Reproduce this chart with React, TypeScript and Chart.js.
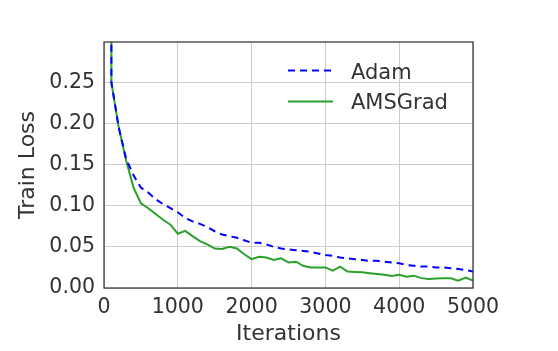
import React, { useEffect, useRef } from "react";
import { Chart, registerables } from "chart.js";

Chart.register(...registerables);

const iterations = [100, 100, 200, 300, 400, 500, 600, 700, 800, 900, 1000, 1100, 1200, 1300, 1400, 1500, 1600, 1700, 1800, 1900, 2000, 2100, 2200, 2300, 2400, 2500, 2600, 2700, 2800, 2900, 3000, 3100, 3200, 3300, 3400, 3500, 3600, 3700, 3800, 3900, 4000, 4100, 4200, 4300, 4400, 4500, 4600, 4700, 4800, 4900, 5000];

const adamLoss = [1.2, 0.25, 0.195, 0.157, 0.137, 0.122, 0.116, 0.108, 0.102, 0.097, 0.092, 0.085, 0.081, 0.078, 0.074, 0.069, 0.065, 0.063, 0.061, 0.058, 0.055, 0.055, 0.053, 0.05, 0.048, 0.047, 0.046, 0.045, 0.044, 0.042, 0.04, 0.039, 0.037, 0.036, 0.035, 0.034, 0.033, 0.033, 0.032, 0.031, 0.03, 0.028, 0.027, 0.026, 0.026, 0.025, 0.025, 0.024, 0.023, 0.022, 0.02];

const amsgradLoss = [1.2, 0.25, 0.195, 0.155, 0.122, 0.103, 0.097, 0.09, 0.083, 0.077, 0.066, 0.0695, 0.063, 0.057, 0.053, 0.048, 0.0475, 0.05, 0.048, 0.041, 0.035, 0.038, 0.037, 0.034, 0.036, 0.031, 0.032, 0.027, 0.025, 0.025, 0.025, 0.021, 0.026, 0.02, 0.0195, 0.019, 0.018, 0.017, 0.016, 0.0146, 0.016, 0.0138, 0.015, 0.012, 0.011, 0.0115, 0.0118, 0.0118, 0.009, 0.0126, 0.009];

const seriesNames = ["Adam", "AMSGrad"];
const xTitle = "Iterations";
const yTitle = "Train Loss";

const FONT = "'DejaVu Sans', sans-serif";
const TEXT = "#333333";
const BLUE = "#0000ff";
const GREEN = "#2ca02c";

export default function App() {
  const ref = useRef<HTMLCanvasElement>(null);
  useEffect(() => {
    document.body.style.margin = "0";
    const ctx = ref.current!.getContext("2d")!;
    const overlay = {
      id: "overlay",
      afterDraw(chart: any) {
        const c = chart.ctx;
        const a = chart.chartArea;
        c.save();
        c.strokeStyle = "#333333";
        c.lineWidth = 1.25;
        c.strokeRect(a.left, a.top, a.right - a.left, a.bottom - a.top);
        c.fillStyle = TEXT;
        c.font = `22px ${FONT}`;
        c.textAlign = "center";
        c.textBaseline = "alphabetic";
        c.fillText(xTitle, (a.left + a.right) / 2, 339.5);
        c.save();
        c.translate(34, (a.top + a.bottom) / 2);
        c.rotate(-Math.PI / 2);
        c.fillText(yTitle, 0, 0);
        c.restore();
        c.font = `21px ${FONT}`;
        c.textAlign = "left";
        c.lineWidth = 2;
        c.strokeStyle = BLUE;
        c.setLineDash([7, 5]);
        c.beginPath();
        c.moveTo(288, 70.5);
        c.lineTo(333, 70.5);
        c.stroke();
        c.setLineDash([]);
        c.strokeStyle = GREEN;
        c.beginPath();
        c.moveTo(288, 101.5);
        c.lineTo(333, 101.5);
        c.stroke();
        c.fillText(seriesNames[0], 351, 78.5);
        c.fillText(seriesNames[1], 351, 108.5);
        c.restore();
      },
    };
    const chart = new Chart(ctx, {
      type: "line",
      data: {
        datasets: [
          {
            label: seriesNames[0],
            data: iterations.map((x, i) => ({ x, y: adamLoss[i] })),
            borderColor: BLUE,
            borderWidth: 2,
            borderDash: [7, 5],
            pointRadius: 0,
            tension: 0,
            fill: false,
          },
          {
            label: seriesNames[1],
            data: iterations.map((x, i) => ({ x, y: amsgradLoss[i] })),
            borderColor: GREEN,
            borderWidth: 2,
            pointRadius: 0,
            tension: 0,
            fill: false,
          },
        ],
      },
      options: {
        animation: false,
        responsive: false,
        maintainAspectRatio: false,
        layout: { padding: { left: 0, right: 85, top: 42, bottom: 0 } },
        plugins: { legend: { display: false }, tooltip: { enabled: false } },
        scales: {
          x: {
            type: "linear",
            min: 0,
            max: 5000,
            afterFit: (s: any) => { s.height = 63; },
            ticks: {
              stepSize: 1000,
              color: TEXT,
              font: { family: FONT, size: 20.5 },
              padding: 7,
              maxRotation: 0,
              callback: (v: any) => String(Math.round(Number(v))),
            },
            grid: { color: "#cccccc", lineWidth: 1, drawTicks: false },
            border: { display: false },
          },
          y: {
            type: "linear",
            min: 0,
            max: 0.299,
            afterFit: (s: any) => { s.width = 104; },
            ticks: {
              stepSize: 0.05,
              includeBounds: false,
              color: TEXT,
              font: { family: FONT, size: 20.5 },
              padding: 9,
              callback: (v: any) => Number(v).toFixed(2),
            },
            grid: { color: "#cccccc", lineWidth: 1, drawTicks: false },
            border: { display: false },
          },
        },
      },
      plugins: [overlay],
    });
    return () => chart.destroy();
  }, []);
  return (
    <div style={{ position: "absolute", left: 0, top: 0, width: 558, height: 351, background: "#fff" }}>
      <canvas ref={ref} width={558} height={351} style={{ width: 558, height: 351 }} />
    </div>
  );
}
